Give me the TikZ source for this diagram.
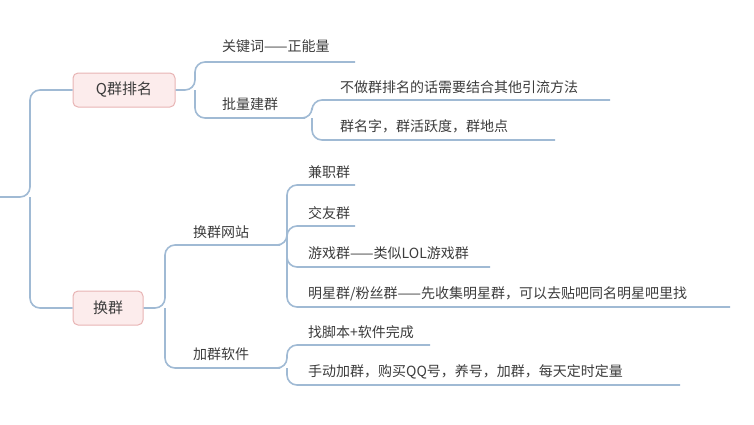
\documentclass[tikz,border=0pt]{standalone}
\usepackage{fontspec}
\setmainfont{Noto Sans CJK SC}
\usetikzlibrary{positioning}
\definecolor{linec}{RGB}{160,186,212}
\definecolor{boxfill}{RGB}{252,236,236}
\definecolor{boxline}{RGB}{232,180,180}
\definecolor{txt}{RGB}{60,60,60}
\begin{document}
\begin{tikzpicture}
	% Styles
	[
	x=1pt,y=-1pt,
	topic/.style={draw=boxline,fill=boxfill,rounded corners=5pt,line width=1pt,text=txt,font=\fontsize{15}{17}\selectfont,minimum height=34pt,inner xsep=10pt},
	leaf/.style={anchor=west,text=txt,font=\fontsize{14}{16}\selectfont,inner sep=0pt},
	branch/.style={draw=linec,line width=1.6pt,rounded corners=10pt},
	]
	\useasboundingbox (0,0) rectangle (754,424);

	% Nodes
	\node at (124,90)	(qrank)	[topic,minimum width=102pt] {Q群排名};
	\node at (108,308)	(swap)	[topic,minimum width=70pt] {换群};
	\node at (222,46)	(kw)	[leaf] {关键词——正能量};
	\node at (222,104)	(batch)	[leaf] {批量建群};
	\node at (340,87)	(nork)	[leaf] {不做群排名的话需要结合其他引流方法};
	\node at (340,126)	(gname)	[leaf] {群名字，群活跃度，群地点};
	\node at (193,232)	(site)	[leaf] {换群网站};
	\node at (193,354)	(soft)	[leaf] {加群软件};
	\node at (308,172)	(jz)	[leaf] {兼职群};
	\node at (308,213)	(jy)	[leaf] {交友群};
	\node at (308,253)	(yx)	[leaf] {游戏群——类似LOL游戏群};
	\node at (308,294)	(mx)	[leaf] {明星群/粉丝群——先收集明星群，可以去贴吧同名明星吧里找};
	\node at (308,332)	(jb)	[leaf] {找脚本+软件完成};
	\node at (308,372)	(sd)	[leaf] {手动加群，购买QQ号，养号，加群，每天定时定量};

	\coordinate (root) at (0,197);

	% Connections
	\draw[branch] (root) -- (30,197) |- (qrank.west);
	\draw[branch] (30,197) |- (swap.west);
	\draw[branch] (qrank.east) -- (195,90) |- (355,62);
	\draw[branch] (195,90) |- (305,118);
	\draw[branch] (305,118) -- (312,118) |- (610,100);
	\draw[branch] (312,118) |- (555,140);
	\draw[branch] (swap.east) -- (165,308) |- (280,245);
	\draw[branch] (165,308) |- (280,368);
	\draw[branch] (280,245) -- (287,245) |- (355,185);
	\draw[branch] (287,245) |- (355,226);
	\draw[branch] (287,245) |- (490,267);
	\draw[branch] (287,245) |- (730,307);
	\draw[branch] (280,368) -- (287,368) |- (430,345);
	\draw[branch] (287,368) |- (680,385);
\end{tikzpicture}
\end{document}
